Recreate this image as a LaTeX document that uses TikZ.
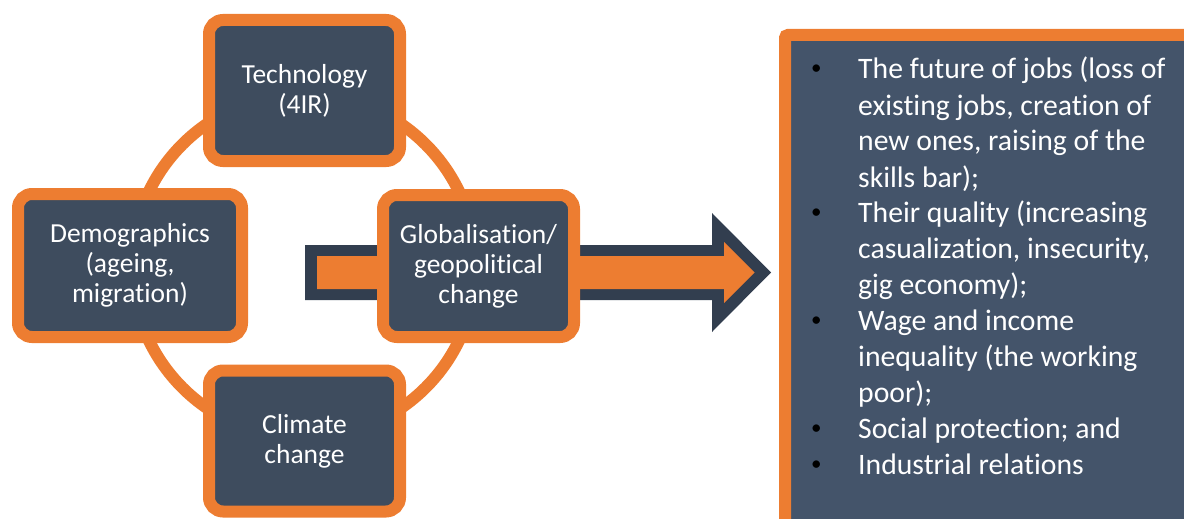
\documentclass[tikz,border=0pt]{standalone}
\usepackage{fontspec}
\setmainfont{Carlito}[Ligatures=NoCommon]

\definecolor{ringorange}{HTML}{ED7D31}
\definecolor{boxslate}{HTML}{3E4C5E}
\definecolor{listslate}{HTML}{44546A}
\definecolor{arrowslate}{HTML}{323E4F}

\tikzset{
    driver/.style={draw=ringorange, line width=12pt, fill=boxslate, rounded corners=14pt,
        minimum width=191pt, minimum height=141pt, inner sep=0pt,
        text=white, align=center, font=\fontsize{27.5}{30}\selectfont},
}
\newcommand{\bul}{\makebox[50pt][l]{\hspace*{3pt}\raisebox{4pt}{\textcolor{black}{\fontsize{21}{21}\selectfont\textbullet}}}}

\begin{document}
\begin{tikzpicture}[x=1pt,y=-1pt]
        \useasboundingbox (0,0) rectangle (1184,519);
        \clip (0,0) rectangle (1184,519);

        % ring behind the drivers
        \draw[ringorange, line width=12pt] (304,266) circle[radius=172];

        % big arrow
        \fill[arrowslate] (305,245) -- (712,245) -- (712,213) -- (771,272.5) -- (712,332) -- (712,300) -- (305,300) -- cycle;
        \fill[ringorange] (317,256) -- (724,256) -- (724,242) -- (754.5,272.5) -- (724,303) -- (724,289) -- (317,289) -- cycle;

        \node[driver] (tech) at (304.5,90.5) {Technology\\(4IR)};
        \node[driver, minimum width=224pt, minimum height=143pt] (demo) at (130,265.5) {Demographics\\(ageing,\\migration)};
        \node[driver, minimum height=142pt] (glob) at (478.5,266) {Globalisation/\\geopolitical\\change};
        \node[driver] (climate) at (304.5,441) {Climate\\change};

        % outcomes
        \node[draw=ringorange, line width=12pt, fill=listslate, rounded corners=3pt,
              minimum width=405pt, minimum height=490pt, inner sep=0pt] (outcomes) at (987.5,280) {};
        \node[anchor=base west, inner sep=0pt, text=white, font=\fontsize{29.7}{36}\selectfont] (issues) at (808,79) {%
            \begin{tabular}[t]{@{}l@{}l@{}}
            \bul & The future of jobs (loss of\\
                 & existing jobs, creation of\\
                 & new ones, raising of the\\
                 & skills bar);\\
            \bul & Their quality (increasing\\
                 & casualization, insecurity,\\
                 & gig economy);\\
            \bul & Wage and income\\
                 & inequality (the working\\
                 & poor);\\
            \bul & Social protection; and\\
            \bul & Industrial relations
            \end{tabular}};
    \end{tikzpicture}
\end{document}
